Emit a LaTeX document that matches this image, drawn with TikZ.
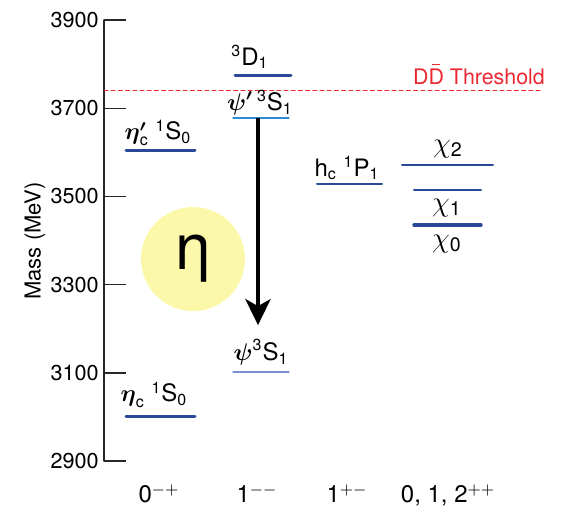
\documentclass[tikz,border=0pt]{standalone}
\usepackage{amsmath, amssymb}
\usepackage{fontspec}
\setmainfont{TeX Gyre Heros}
\usepackage{tikz}
\usetikzlibrary{calc, arrows.meta}
\usepackage{tkz-euclide}

\definecolor{levelblue}{RGB}{42,72,152}
\definecolor{psiblue}{RGB}{40,140,215}
\definecolor{jpsiblue}{RGB}{120,145,210}
\definecolor{threshred}{RGB}{235,40,50}
\definecolor{etayellow}{RGB}{252,248,170}

\begin{document}
\begin{tikzpicture}[x=0.5pt, y=0.2205pt,
    lbl/.style={inner sep=0pt, font=\fontsize{12}{14}\selectfont},
    chilbl/.style={inner sep=0pt, font=\fontsize{14}{16}\selectfont}]
      \useasboundingbox (0,2786.6) rectangle (569,3945.4);

      % 1. 質量軸 (y 軸用 MeV 當單位)
      \tkzDefPoint(104,2900){ax_b}
      \tkzDefPoint(104,3900){ax_t}
      \tkzDrawSegment[black!85, line width=0.7pt](ax_b,ax_t)
      \foreach \m in {2900,3100,...,3900}{
        \draw[black!85, line width=0.7pt] (104,\m) -- (126,\m);
        \node[anchor=east, inner sep=0pt, font=\fontsize{10.8}{12}\selectfont] (tick_\m) at (99,\m) {\m};
      }
      \node[rotate=90, inner sep=0pt, font=\fontsize{11}{12}\selectfont] (mass_lbl) at (35,3399) {Mass (MeV)};

      % 2. DD 閾值
      \tkzDefPoint(104,3741){th_1}
      \tkzDefPoint(543,3741){th_2}
      \tkzDrawSegment[threshred, line width=0.5pt, dash pattern=on 2pt off 1.6pt](th_1,th_2)
      \node[threshred, inner sep=0pt, font=\fontsize{10.7}{12}\selectfont] (th_lbl) at (479,3776)
        {D\hbox to 0pt{\hskip1.9pt\raisebox{9.6pt}{\rule{4pt}{0.55pt}}\hss}D Threshold};

      % 3. 各能階
      \tkzDefPoint(126,3603){etac2_1} \tkzDefPoint(195,3603){etac2_2}
      \tkzDefPoint(126,3000){etac_1}  \tkzDefPoint(195,3000){etac_2}
      \tkzDefPoint(235,3775){D_1}     \tkzDefPoint(291,3775){D_2}
      \tkzDefPoint(233,3678){psi2_1}  \tkzDefPoint(289,3678){psi2_2}
      \tkzDefPoint(233,3102){psi_1}   \tkzDefPoint(289,3102){psi_2}
      \tkzDefPoint(317,3528){hc_1}    \tkzDefPoint(382,3528){hc_2}
      \tkzDefPoint(402,3571){chi2_1}  \tkzDefPoint(493,3571){chi2_2}
      \tkzDefPoint(414,3515){chi1_1}  \tkzDefPoint(481,3515){chi1_2}
      \tkzDefPoint(414,3435){chi0_1}  \tkzDefPoint(481,3435){chi0_2}

      \tkzDrawSegments[levelblue, line width=1.5pt](etac2_1,etac2_2 etac_1,etac_2 D_1,D_2)
      \tkzDrawSegments[levelblue, line width=1.7pt](chi0_1,chi0_2)
      \tkzDrawSegments[levelblue, line width=1pt](hc_1,hc_2 chi2_1,chi2_2 chi1_1,chi1_2)
      \tkzDrawSegment[psiblue, line width=0.6pt](psi2_1,psi2_2)
      \tkzDrawSegment[jpsiblue, line width=0.6pt](psi_1,psi_2)

      % 4. 能階標籤
      \node[lbl] (etac2_lbl) at (158,3644) {$\boldsymbol{\eta}^{\boldsymbol{\prime}}_{\text{c}}\;{}^{\text{1}}\text{S}_{\text{0}}$};
      \node[lbl] (etac_lbl) at (154,3050) {$\boldsymbol{\eta}_{\text{c}}\;{}^{\text{1}}\text{S}_{\text{0}}$};
      \node[lbl] (D_lbl) at (250,3816) {${}^{\text{3}}\text{D}_{\text{1}}$};
      \node[lbl] (psi2_lbl) at (260,3712) {$\boldsymbol{\psi}^{\boldsymbol{\prime}}\,{}^{\text{3}}\text{S}_{\text{1}}$};
      \node[lbl] (psi_lbl) at (261,3147) {$\boldsymbol{\psi}^{\text{3}}\text{S}_{\text{1}}$};
      \node[lbl] (hc_lbl) at (347,3564) {$\text{h}_{\text{c}}\;{}^{\text{1}}\text{P}_{\text{1}}$};
      \node[chilbl] (chi2_lbl) at (448,3607) {$\chi_{\text{2}}$};
      \node[chilbl] (chi1_lbl) at (447,3474) {$\chi_{\text{1}}$};
      \node[chilbl] (chi0_lbl) at (447,3392) {$\chi_{\text{0}}$};

      % 5. 躍遷 psi' -> psi + eta
      \node[circle, fill=etayellow, minimum size=52pt, inner sep=0pt,
            font=\fontsize{32}{32}\selectfont] (eta_blob) at (193,3358) {η};
      \tkzDefPoint(258,3208){arr_end}
      \draw[line width=2.3pt, -{Stealth[length=13pt, width=12.5pt, inset=3.5pt]}] (psi2_1 -| arr_end) -- (arr_end);

      % 6. J^PC
      \node[lbl, anchor=base] (jpc_1) at (159,2805) {0$^{-+}$};
      \node[lbl, anchor=base] (jpc_2) at (257,2805) {1$^{--}$};
      \node[lbl, anchor=base] (jpc_3) at (347,2805) {1$^{+-}$};
      \node[lbl, anchor=base] (jpc_4) at (448,2805) {0, 1, 2$^{++}$};
\end{tikzpicture}
\end{document}
